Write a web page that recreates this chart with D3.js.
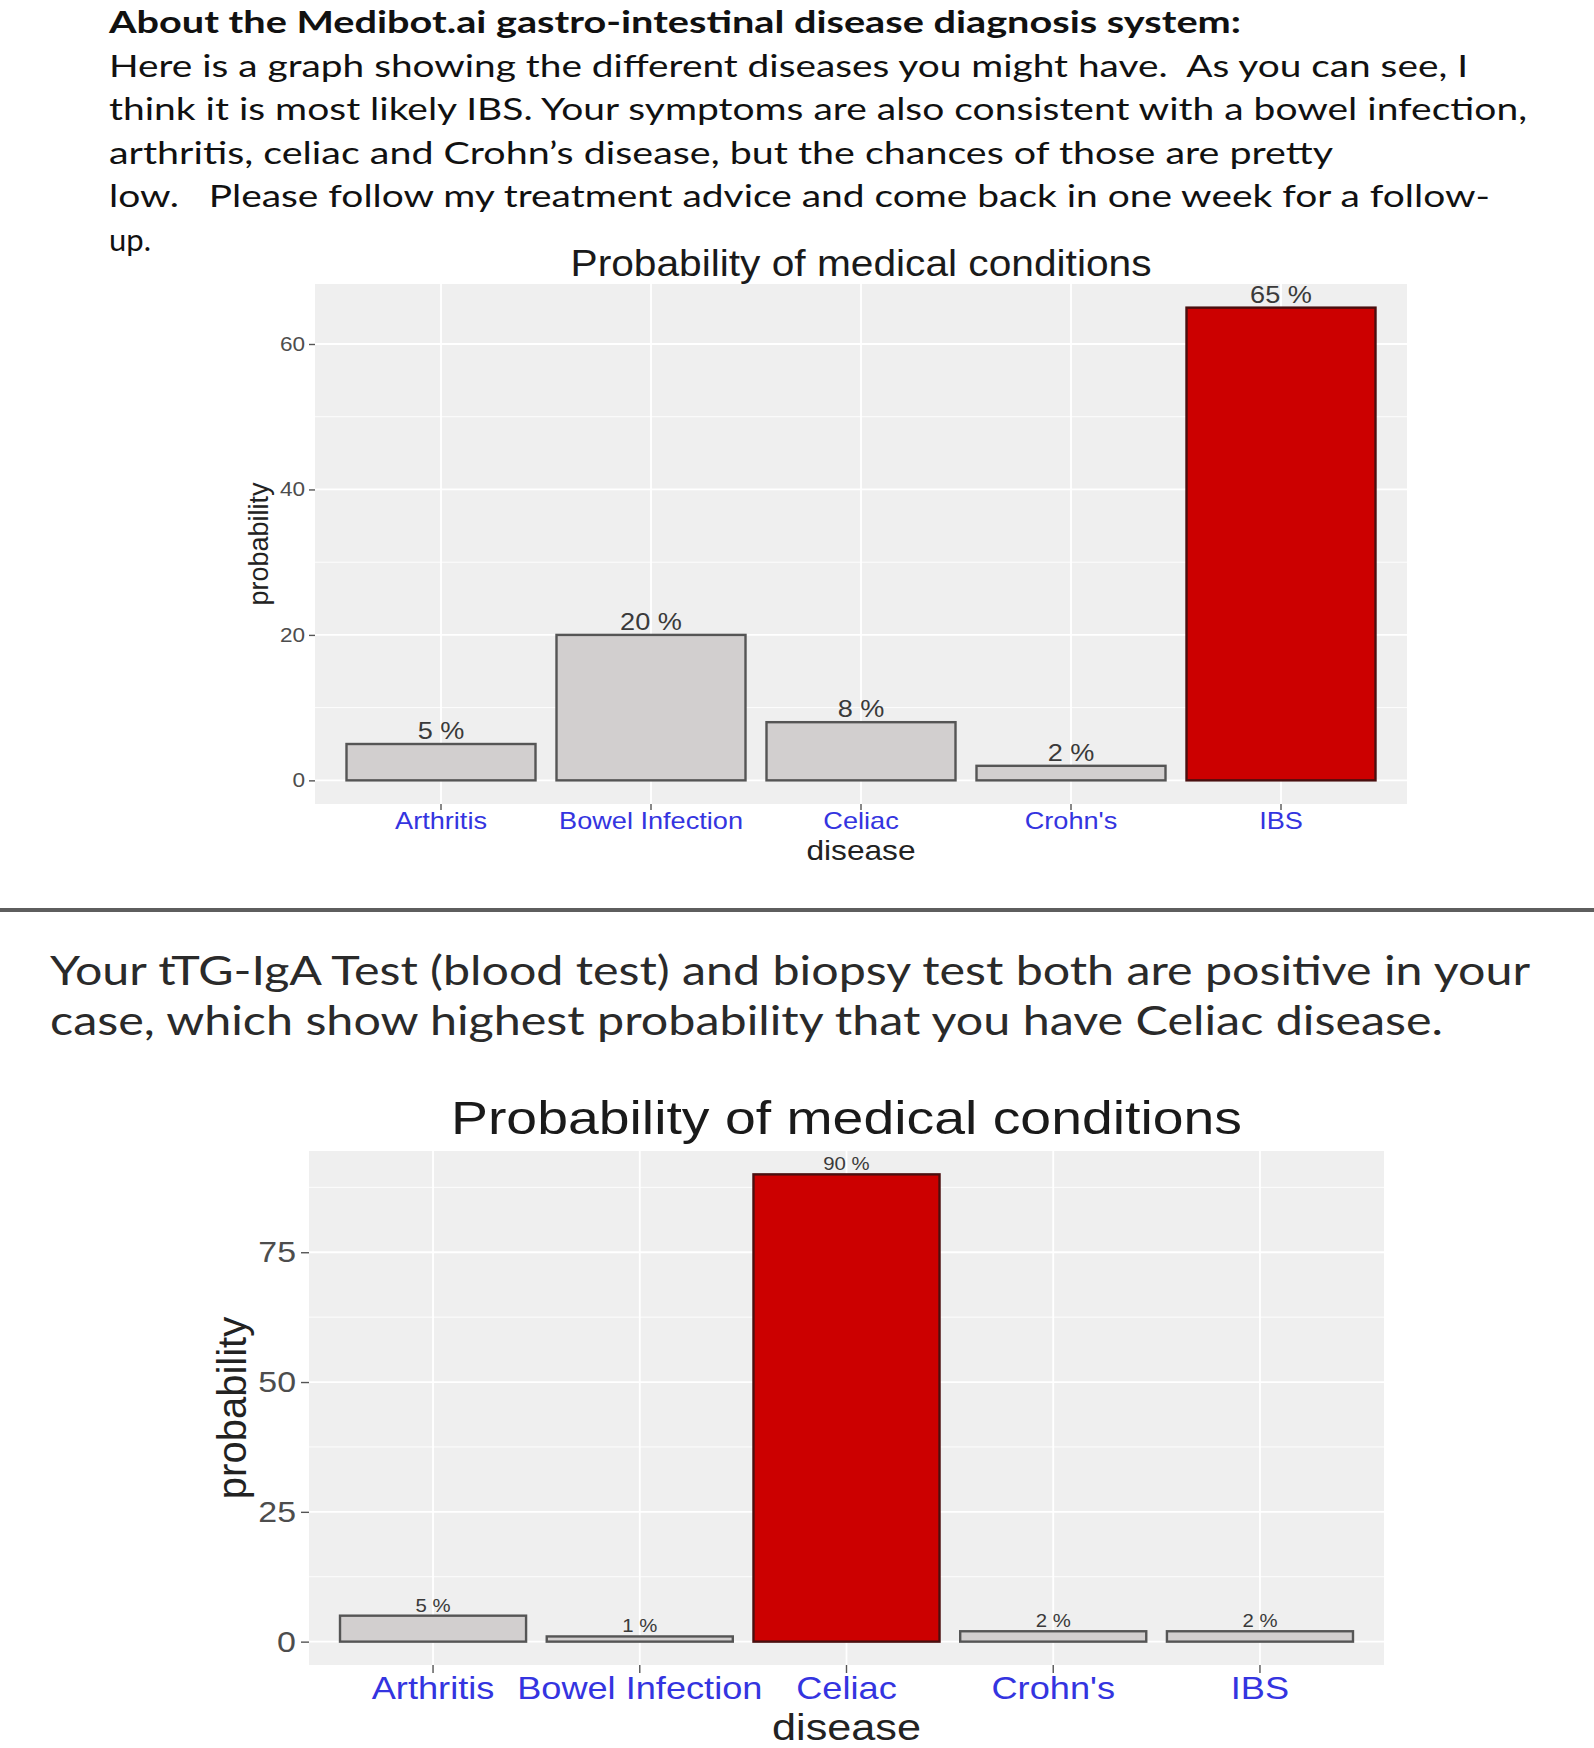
<!DOCTYPE html>
<html>
<head>
<meta charset="utf-8">
<script src="https://cdn.jsdelivr.net/npm/d3@7"></script>
<style>
  html, body { margin: 0; padding: 0; background: #ffffff; }
  svg { display: block; }
  text { white-space: pre; }
</style>
</head>
<body>
<script>
// ---------------- DATA ----------------
const diseases = ["Arthritis", "Bowel Infection", "Celiac", "Crohn's", "IBS"];
const probabilityBefore = [5, 20, 8, 2, 65];   // first chart (%)
const probabilityAfter  = [5, 1, 90, 2, 2];    // second chart (%)
const highlightBefore = "IBS";
const highlightAfter  = "Celiac";
const yTicksBefore = [0, 20, 40, 60];
const yMinorBefore = [10, 30, 50];
const yTicksAfter  = [0, 25, 50, 75];
const yMinorAfter  = [12.5, 37.5, 62.5, 87.5];
const chartTitle = "Probability of medical conditions";
const xTitle = "disease";
const yTitle = "probability";

const introLines = [
  "About the Medibot.ai gastro-intestinal disease diagnosis system:",
  "Here is a graph showing the different diseases you might have.  As you can see, I",
  "think it is most likely IBS. Your symptoms are also consistent with a bowel infection,",
  "arthritis, celiac and Crohn\u2019s disease, but the chances of those are pretty",
  "low.   Please follow my treatment advice and come back in one week for a follow-",
  "up."
];
const followLines = [
  "Your tTG-IgA Test (blood test) and biopsy test both are positive in your",
  "case, which show highest probability that you have Celiac disease."
];

// ---------------- SETUP ----------------
const W = 1594, H = 1748;
const svg = d3.select("body").append("svg").attr("width", W).attr("height", H)
  .style("font-family", "'Liberation Sans', Arial, sans-serif");

function stretch(sel, k) {
  sel.each(function () {
    const w = this.getComputedTextLength();
    this.setAttribute("textLength", (w * k).toFixed(1));
    this.setAttribute("lengthAdjust", "spacingAndGlyphs");
  });
}

// ---------------- PARAGRAPH 1 ----------------
const introBase = [33, 77, 120, 164, 207, 251];
const introLen  = [1132, 1359, 1418, 1224, 1381, null];
const intro = svg.append("g").style("font-family", "Lato, 'Open Sans', sans-serif").attr("fill", "#111");
introLines.forEach((t, i) => {
  const tx = intro.append("text").attr("x", 109).attr("y", introBase[i])
    .attr("font-size", 31).attr("font-weight", i === 0 ? 700 : 400).text(t);
  if (introLen[i]) tx.attr("textLength", introLen[i]).attr("lengthAdjust", "spacingAndGlyphs");
});

// ---------------- SEPARATOR ----------------
svg.append("line").attr("x1", 0).attr("x2", W).attr("y1", 910).attr("y2", 910)
  .attr("stroke", "#5e5e5e").attr("stroke-width", 4);

// ---------------- PARAGRAPH 2 ----------------
const followBase = [985, 1035];
const followLen = [1480, 1393];
const follow = svg.append("g").style("font-family", "Lato, 'Open Sans', sans-serif").attr("fill", "#2a2a2a");
followLines.forEach((t, i) => {
  follow.append("text").attr("x", 50).attr("y", followBase[i]).attr("font-size", 40)
    .attr("textLength", followLen[i]).attr("lengthAdjust", "spacingAndGlyphs").text(t);
});

// ---------------- CHART FUNCTION ----------------
function drawChart(cfg) {
  const g = svg.append("g");
  const x = d3.scaleBand().domain(diseases).range([cfg.left, cfg.right])
    .paddingInner(0.1).paddingOuter(0.15);
  const y = d3.scaleLinear().domain(cfg.yDomain).range([cfg.bottom, cfg.top]);
  const bw = x.bandwidth();

  // title
  g.append("text").attr("x", (cfg.left + cfg.right) / 2).attr("y", cfg.titleY)
    .attr("text-anchor", "middle").attr("font-size", cfg.titleSize).attr("fill", "#1a1a1a")
    .attr("textLength", cfg.titleLen).attr("lengthAdjust", "spacingAndGlyphs")
    .text(chartTitle);

  // panel
  g.append("rect").attr("x", cfg.left).attr("y", cfg.top)
    .attr("width", cfg.right - cfg.left).attr("height", cfg.bottom - cfg.top)
    .attr("fill", "#efefef");

  // grid
  g.selectAll("line.minor").data(cfg.minor).join("line").attr("class", "minor")
    .attr("x1", cfg.left).attr("x2", cfg.right)
    .attr("y1", d => y(d)).attr("y2", d => y(d))
    .attr("stroke", "#ffffff").attr("stroke-width", 0.9);
  g.selectAll("line.major").data(cfg.ticks).join("line").attr("class", "major")
    .attr("x1", cfg.left).attr("x2", cfg.right)
    .attr("y1", d => y(d)).attr("y2", d => y(d))
    .attr("stroke", "#ffffff").attr("stroke-width", 1.8);
  g.selectAll("line.vmajor").data(diseases).join("line").attr("class", "vmajor")
    .attr("x1", d => x(d) + bw / 2).attr("x2", d => x(d) + bw / 2)
    .attr("y1", cfg.top).attr("y2", cfg.bottom)
    .attr("stroke", "#ffffff").attr("stroke-width", 1.8);

  // bars
  const data = diseases.map((d, i) => ({ name: d, value: cfg.values[i] }));
  g.selectAll("rect.bar").data(data).join("rect").attr("class", "bar")
    .attr("x", d => x(d.name)).attr("width", bw)
    .attr("y", d => y(d.value)).attr("height", d => y(0) - y(d.value))
    .attr("fill", d => d.name === cfg.highlight ? "#cc0000" : "#d2cfcf")
    .attr("stroke", d => d.name === cfg.highlight ? "#4a0f0f" : "#555555")
    .attr("stroke-width", 2.4);

  // value labels
  const vl = g.selectAll("text.val").data(data).join("text").attr("class", "val")
    .attr("x", d => x(d.name) + bw / 2).attr("y", d => y(d.value) - cfg.valGap)
    .attr("text-anchor", "middle").attr("font-size", cfg.valSize).attr("fill", "#3a3a3a")
    .text(d => d.value + " %");
  stretch(vl, 1.13);

  // y axis
  const ya = g.append("g").attr("transform", `translate(${cfg.left},0)`)
    .call(d3.axisLeft(y).tickValues(cfg.ticks).tickSize(cfg.tickLen).tickPadding(cfg.yPad));
  ya.select(".domain").remove();
  ya.selectAll(".tick line").attr("stroke", "#555555").attr("stroke-width", 1.4);
  ya.selectAll(".tick text").attr("font-size", cfg.yTickSize).attr("fill", "#4d4d4d")
    .style("font-family", "'Liberation Sans', Arial, sans-serif");
  stretch(ya.selectAll(".tick text"), 1.13);

  // x axis
  const xa = g.append("g").attr("transform", `translate(0,${cfg.bottom})`)
    .call(d3.axisBottom(x).tickSize(cfg.tickLen).tickPadding(cfg.xPad));
  xa.select(".domain").remove();
  xa.selectAll(".tick line").attr("stroke", "#555555").attr("stroke-width", 1.4);
  xa.selectAll(".tick text").attr("font-size", cfg.xTickSize).attr("fill", "#3434e0")
    .style("font-family", "'Liberation Sans', Arial, sans-serif");
  stretch(xa.selectAll(".tick text"), 1.13);

  // axis titles
  const xt = g.append("text").attr("x", (cfg.left + cfg.right) / 2).attr("y", cfg.xTitleY)
    .attr("text-anchor", "middle").attr("font-size", cfg.axisTitleSize).attr("fill", "#222")
    .text(xTitle);
  stretch(xt, cfg.xTitleStretch);
  g.append("text")
    .attr("transform", `translate(${cfg.yTitleX},${(cfg.top + cfg.bottom) / 2}) rotate(-90)`)
    .attr("text-anchor", "middle").attr("font-size", cfg.yTitleSize).attr("fill", "#222")
    .text(yTitle);
}

// ---------------- CHART 1 ----------------
drawChart({
  left: 315, right: 1407, top: 284, bottom: 804,
  yDomain: [-3.25, 68.25], values: probabilityBefore, highlight: highlightBefore,
  ticks: yTicksBefore, minor: yMinorBefore,
  titleY: 276, titleSize: 36, titleLen: 581,
  valSize: 24, valGap: 5,
  tickLen: 6, yPad: 4, yTickSize: 20,
  xPad: 2, xTickSize: 24,
  xTitleY: 860, axisTitleSize: 28, xTitleStretch: 1.13,
  yTitleX: 268, yTitleSize: 27
});

// ---------------- CHART 2 ----------------
drawChart({
  left: 309, right: 1384, top: 1151, bottom: 1665,
  yDomain: [-4.5, 94.5], values: probabilityAfter, highlight: highlightAfter,
  ticks: yTicksAfter, minor: yMinorAfter,
  titleY: 1134, titleSize: 47, titleLen: 791,
  valSize: 18, valGap: 4,
  tickLen: 8, yPad: 5, yTickSize: 30,
  xPad: 3, xTickSize: 32,
  xTitleY: 1740, axisTitleSize: 36, xTitleStretch: 1.2,
  yTitleX: 246, yTitleSize: 40
});
</script>
</body>
</html>
